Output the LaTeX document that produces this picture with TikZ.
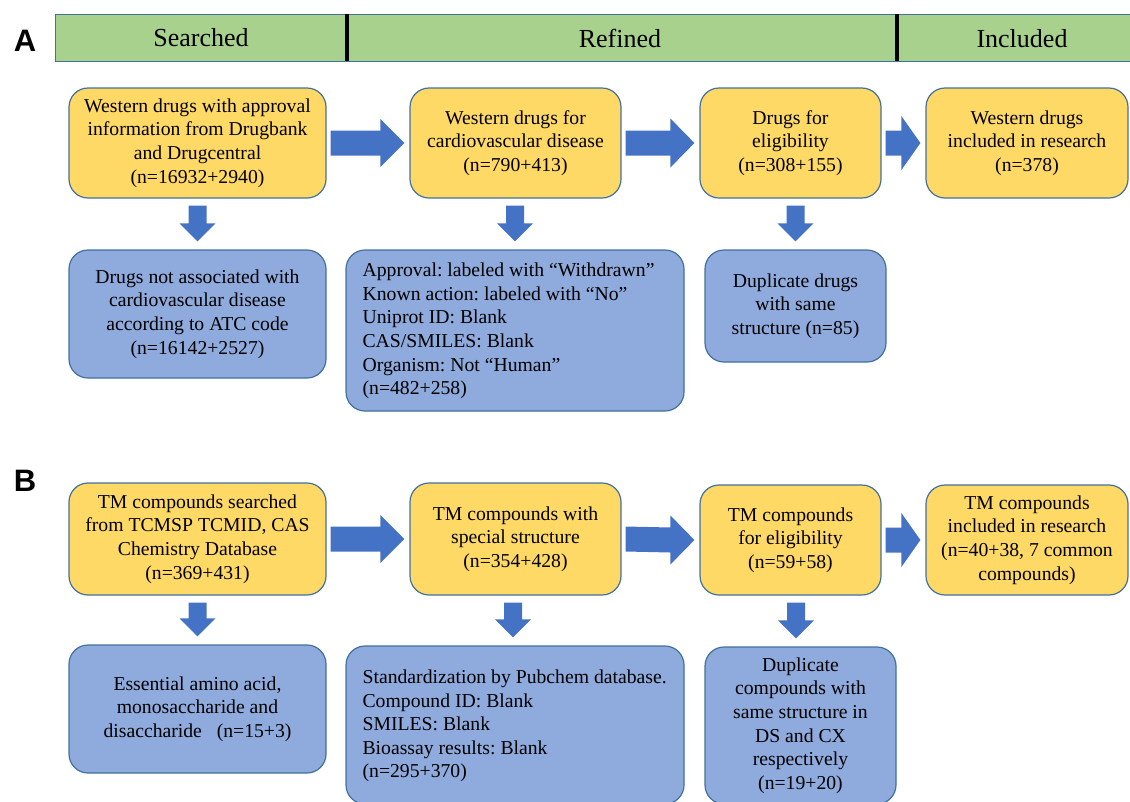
\documentclass[tikz,border=0pt]{standalone}
\usepackage{fontspec}
\setmainfont{Liberation Serif}
\newfontfamily\panelfont{Liberation Sans}
\usetikzlibrary{calc}
\frenchspacing
\definecolor{yellowc}{HTML}{FFD966}
\definecolor{bluec}{HTML}{8FAADC}
\definecolor{edgec}{HTML}{41719C}
\definecolor{arrowc}{HTML}{4472C4}
\definecolor{greenc}{HTML}{A9D18E}
\newcommand\boxfont{\fontsize{19.7}{23.6}\selectfont}
\newcommand\hdrfont{\fontsize{26}{30}\selectfont}
\newcommand\panfont{\panelfont\bfseries\fontsize{31}{31}\selectfont}
% horizontal block arrow: from, to, head length, head half height
\newcommand\hblock[4]{%
  \fill[arrowc] ($(#1.east)+(4,-12.5)$) -- ($(#2.west)+(-5-#3,-12.5)$)
    -- ($(#2.west)+(-5-#3,-#4)$) -- ($(#2.west)+(-5,0)$)
    -- ($(#2.west)+(-5-#3,#4)$) -- ($(#2.west)+(-5-#3,12.5)$)
    -- ($(#1.east)+(4,12.5)$) -- cycle;}
% vertical block arrow: upper, lower, x offset
\newcommand\vblock[3]{%
  \fill[arrowc] ($(#1.south -| #2.north)+(#3-9,7)$) -- ($(#1.south -| #2.north)+(#3+9,7)$)
    -- ($(#2.north)+(#3+9,-26)$) -- ($(#2.north)+(#3+18,-26)$)
    -- ($(#2.north)+(#3,-8)$) -- ($(#2.north)+(#3-18,-26)$)
    -- ($(#2.north)+(#3-9,-26)$) -- cycle;}
\begin{document}
\begin{tikzpicture}[x=1pt,y=-1pt,
  box/.style={rounded corners=19pt, draw=edgec, line width=1.2pt, inner sep=0pt, align=center, font=\boxfont},
  ybox/.style={box, fill=yellowc},
  bbox/.style={box, fill=bluec},
  txt/.style={inner sep=0pt, align=left, font=\boxfont, anchor=west},
  hdrtxt/.style={inner sep=0pt, font=\hdrfont},
  panel/.style={inner sep=0pt, font=\panfont}]
\useasboundingbox (0,0) rectangle (1130,801);

% header bar
\node[draw=edgec, fill=greenc, line width=1pt, minimum width=1080pt, minimum height=47pt, inner sep=0pt] (hdr) at (595,37.5) {};
\draw[line width=3.5pt] (347,14) -- (347,61);
\draw[line width=3.5pt] (897,14) -- (897,61);
\node[hdrtxt] (h1) at (201,38) {Searched};
\node[hdrtxt] (h2) at (620,38) {Refined};
\node[hdrtxt] (h3) at (1022,39) {Included};

% panel labels
\node[panel] (lA) at (25,41) {A};
\node[panel] (lB) at (25,481) {B};

% ---------- Panel A ----------
\node[ybox, minimum width=257pt, minimum height=110pt] (a1) at (197.5,143)
  {Western drugs with approval\\information from Drugbank\\and Drugcentral\\(n=16932+2940)};
\node[ybox, minimum width=211pt, minimum height=110pt] (a2) at (515.5,143)
  {Western drugs for\\cardiovascular disease\\(n=790+413)};
\node[ybox, minimum width=181pt, minimum height=110pt] (a3) at (790.5,143)
  {Drugs for\\eligibility\\(n=308+155)};
\node[ybox, minimum width=202pt, minimum height=110pt] (a4) at (1027,143)
  {Western drugs\\included in research\\(n=378)};

\node[bbox, minimum width=257pt, minimum height=128pt] (a5) at (197.5,314)
  {Drugs not associated with\\cardiovascular disease\\according to ATC code\\(n=16142+2527)};
\node[bbox, minimum width=338pt, minimum height=161pt] (a6) at (515,330.5) {};
\node[txt] (a6t) at ($(a6.west)+(17,0.5)$)
  {Approval: labeled with “Withdrawn”\\Known action: labeled with “No”\\Uniprot ID: Blank\\CAS/SMILES: Blank\\Organism: Not “Human”\\(n=482+258)};
\node[bbox, minimum width=181pt, minimum height=112pt] (a7) at (795.5,306)
  {Duplicate drugs\\with same\\structure (n=85)};

\hblock{a1}{a2}{24}{24}
\hblock{a2}{a3}{24}{24.5}
\hblock{a3}{a4}{19}{27}
\vblock{a1}{a5}{0}
\vblock{a2}{a6}{0}
\vblock{a3}{a7}{0}

% ---------- Panel B ----------
\node[ybox, minimum width=257pt, minimum height=112pt] (b1) at (197.5,539)
  {TM compounds searched\\from TCMSP TCMID, CAS\\Chemistry Database\\(n=369+431)};
\node[ybox, minimum width=211pt, minimum height=112pt] (b2) at (515.5,539)
  {TM compounds with\\special structure\\(n=354+428)};
\node[ybox, minimum width=181pt, minimum height=110pt] (b3) at (790.5,540)
  {TM compounds\\for eligibility\\(n=59+58)};
\node[ybox, minimum width=202pt, minimum height=110pt] (b4) at (1027,540)
  {TM compounds\\included in research\\(n=40+38, 7 common\\compounds)};

\node[bbox, minimum width=257pt, minimum height=128pt] (b5) at (197.5,709)
  {Essential amino acid,\\monosaccharide and\\disaccharide\enspace\ (n=15+3)};
\node[bbox, minimum width=338pt, minimum height=158pt] (b6) at (515,725) {};
\node[txt] (b6t) at ($(b6.west)+(17,1)$)
  {Standardization by Pubchem database.\\Compound ID: Blank\\SMILES: Blank\\Bioassay results: Blank\\(n=295+370)};
\node[bbox, minimum width=191pt, minimum height=157pt] (b7) at (800.5,725.5)
  {Duplicate\\compounds with\\same structure in\\DS and CX\\respectively\\(n=19+20)};

\hblock{b1}{b2}{24}{24}
\hblock{b2}{b3}{24}{24.5}
\hblock{b3}{b4}{19}{27}
\vblock{b1}{b5}{0}
\vblock{b2}{b6}{-2}
\vblock{b3}{b7}{-4.5}
\end{tikzpicture}
\end{document}
